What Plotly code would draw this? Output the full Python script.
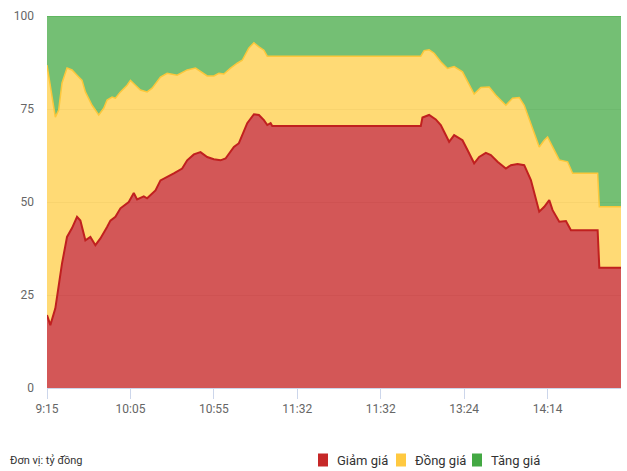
import plotly.graph_objects as go

# Tick labels (category index -> time label)
tick_idx = [0, 50, 100, 150, 200, 250, 300]
tick_labels = ["9:15", "10:05", "10:55", "11:32", "11:32", "13:24", "14:14"]
x_last = 344

# Giảm giá share (% of total value)
giam_x = [0, 2, 5, 9, 12, 15, 18, 20, 23, 26, 29, 32, 36, 38, 41, 44, 49, 52, 54, 58,
          60, 65, 68, 72, 76, 81, 84, 88, 92, 96, 100, 104, 107, 112, 115, 120, 124,
          127, 130, 132, 134, 135, 224, 225, 229, 233, 236, 238, 241, 244, 249, 252,
          256, 259, 263, 266, 270, 275, 278, 282, 286, 290, 293, 295, 298, 301, 303,
          307, 311, 314, 330, 331, 344]
giam_pct = [19.6, 16.9, 21.4, 33.5, 40.6, 43.0, 46.0, 45.0, 39.7, 40.6, 38.4, 40.2, 43.3,
            45.0, 46.0, 48.3, 50.0, 52.4, 50.7, 51.5, 51.0, 53.1, 55.8, 56.7, 57.7, 59.0,
            61.2, 62.8, 63.4, 62.1, 61.5, 61.2, 61.7, 64.8, 65.8, 71.2, 73.6, 73.4, 72.0,
            70.7, 71.2, 70.4, 70.4, 72.7, 73.4, 72.2, 70.7, 68.9, 66.2, 68.0, 66.6, 64.0,
            60.4, 62.1, 63.2, 62.6, 60.8, 59.0, 59.9, 60.2, 59.9, 55.9, 50.5, 47.4, 48.7,
            50.5, 47.8, 44.7, 44.9, 42.4, 42.4, 32.3, 32.3]

# Upper edge of Đồng giá band (Giảm giá + Đồng giá, %)
dong_x = [0, 2, 5, 7, 9, 12, 15, 18, 21, 23, 27, 31, 34, 36, 39, 41, 44, 48, 50, 53, 56,
          60, 63, 68, 72, 78, 84, 89, 92, 96, 100, 103, 106, 110, 114, 117, 121, 124,
          127, 130, 132, 224, 226, 229, 232, 236, 240, 244, 249, 252, 256, 260, 265,
          269, 275, 279, 283, 286, 290, 295, 298, 300, 303, 307, 312, 315, 330, 331, 344]
dong_cum = [86.8, 80.9, 72.8, 74.7, 82.0, 86.0, 85.5, 84.1, 82.7, 79.6, 76.0, 73.4, 75.2,
            77.4, 78.2, 77.9, 79.6, 81.4, 82.7, 81.4, 80.1, 79.6, 80.6, 83.6, 84.6, 84.1,
            85.5, 86.0, 85.0, 83.9, 83.9, 84.6, 84.4, 86.0, 87.3, 88.1, 91.4, 92.8, 91.7,
            90.8, 89.2, 89.2, 90.7, 90.9, 90.0, 87.7, 85.9, 86.4, 85.0, 82.3, 79.0, 80.8,
            80.9, 78.7, 76.0, 77.9, 78.1, 76.0, 71.1, 64.8, 66.6, 67.5, 64.8, 61.3, 60.8,
            57.7, 57.7, 48.7, 48.7]

# Upper edge of Tăng giá band (total = 100%)
tang_x = [0, 344]
tang_cum = [100, 100]

series_names = ["Giảm giá", "Đồng giá", "Tăng giá"]
fill_colors = ["rgba(198,40,40,0.78)", "rgba(255,204,64,0.72)", "rgba(67,168,67,0.74)"]
line_colors = ["#c0201f", "#fcc73a", "#58b558"]
legend_colors = ["#c62828", "#ffc940", "#43a843"]

font_family = "Roboto, Liberation Sans, sans-serif"

# page geometry (pixels) used to place the hand-made legend
W, H = 627, 471
ML, MR, MT, MB = 47, 6, 16, 83
PW, PH = W - ML - MR, H - MT - MB


def px_x(px):
    return (px - ML) / PW


def px_y(py):
    return (H - MB - py) / PH


legend_swatch_left = [318, 396, 472]
legend_text_left = [335, 413, 489]
legend_mid_y = 460

fig = go.Figure()
fig.add_trace(go.Scatter(x=giam_x, y=giam_pct, mode="lines", fill="tozeroy",
                         fillcolor=fill_colors[0], line=dict(color=line_colors[0], width=2),
                         name=series_names[0]))
fig.add_trace(go.Scatter(x=dong_x, y=dong_cum, mode="lines", fill="tonexty",
                         fillcolor=fill_colors[1], line=dict(color=line_colors[1], width=1.5),
                         name=series_names[1]))
fig.add_trace(go.Scatter(x=tang_x, y=tang_cum, mode="lines", fill="tonexty",
                         fillcolor=fill_colors[2], line=dict(color=line_colors[2], width=1.5),
                         name=series_names[2]))

shapes = []
annotations = [dict(text="Đơn vị: tỷ đồng", xref="paper", yref="paper",
                    x=px_x(8), y=px_y(legend_mid_y), xanchor="left", yanchor="middle",
                    showarrow=False, font=dict(size=11, color="#333333", family=font_family))]
for name, col, sx, tx in zip(series_names, legend_colors, legend_swatch_left, legend_text_left):
    shapes.append(dict(type="rect", xref="paper", yref="paper",
                       x0=px_x(sx), x1=px_x(sx + 10),
                       y0=px_y(legend_mid_y + 6.5), y1=px_y(legend_mid_y - 6.5),
                       fillcolor=col, line=dict(width=0), layer="above"))
    annotations.append(dict(text=name, xref="paper", yref="paper",
                            x=px_x(tx), y=px_y(legend_mid_y), xanchor="left", yanchor="middle",
                            showarrow=False,
                            font=dict(size=13, color="#333333", family=font_family)))

fig.update_layout(
    width=W, height=H,
    margin=dict(l=ML, r=MR, t=MT, b=MB, autoexpand=False),
    paper_bgcolor="white", plot_bgcolor="white",
    font=dict(family=font_family, color="#666666", size=12),
    showlegend=False,
    xaxis=dict(range=[0, x_last], tickmode="array", tickvals=tick_idx, ticktext=tick_labels,
               showgrid=False, zeroline=False, showline=True, linecolor="#ccd6eb", linewidth=1,
               ticks="outside", ticklen=10, tickcolor="#ccd6eb", automargin=False,
               tickfont=dict(size=12, color="#666666")),
    yaxis=dict(range=[0, 100], tickvals=[0, 25, 50, 75, 100], showgrid=True,
               gridcolor="#e6e6e6", zeroline=False, showline=False, automargin=False,
               ticks="", ticklabelstandoff=12, tickfont=dict(size=12, color="#666666")),
    shapes=shapes,
    annotations=annotations,
)

fig.write_html("out.html", config={"displayModeBar": False},
               post_script="document.body.style.margin='0';document.body.style.overflow='hidden';")
